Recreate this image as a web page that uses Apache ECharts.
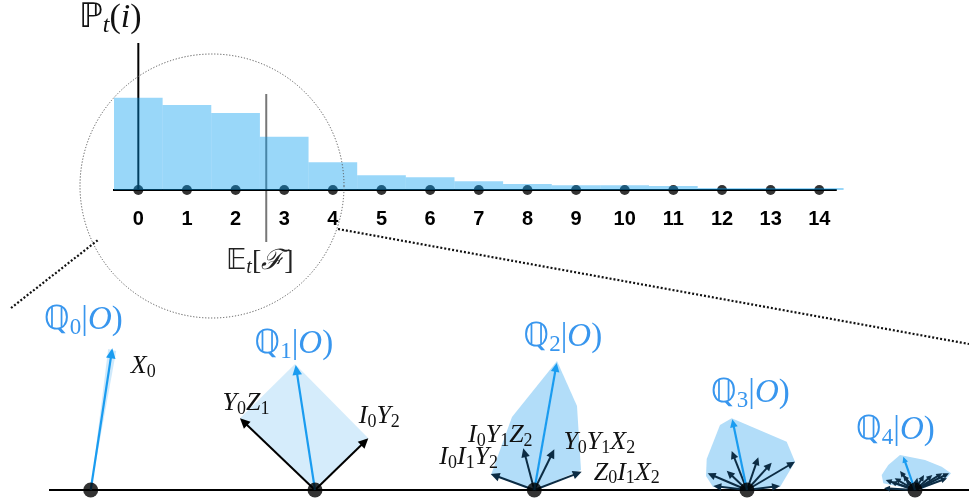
<!DOCTYPE html>
<html>
<head>
<meta charset="utf-8">
<script src="https://cdn.jsdelivr.net/npm/echarts@6/dist/echarts.min.js"></script>
<style>
  html, body { margin: 0; padding: 0; background: #fff; }
  #chart { width: 969px; height: 503px; }
</style>
</head>
<body>
<div id="chart"></div>
<script>
// ---- distribution over the number of failures i ----
const categories = ['0', '1', '2', '3', '4', '5', '6', '7', '8', '9', '10', '11', '12', '13', '14'];
const probabilities = [0.232, 0.214, 0.194, 0.134, 0.070, 0.037, 0.032, 0.022, 0.015, 0.012, 0.012, 0.010, 0.005, 0.005, 0.005];
const expectedFailures = 2.63;
const probabilityMax = 0.37;
const axisSpan = [-0.77, 14.36];

// ---- per-level vector fans on the lower baseline ----
const panelOrigins = [90.7, 315, 534.3, 747, 915];
const panelNames = ['ℚ_0|O)', 'ℚ_1|O)', 'ℚ_2|O)', 'ℚ_3|O)', 'ℚ_4|O)'];
const meanVectors = [[21.6, 141.7], [-19.3, 125], [22.4, 127], [-14.7, 70.7], [-11.7, 33.3]];
const meanVectorNames = ['X_0', '', '', '', ''];
const componentVectors = [
  [],
  [[-75, 71.7], [53.3, 51.7]],
  [[-43.6, 16], [-11, 41.7], [20, 40.7], [47.4, 18.3]],
  [[-39.3, 16.7], [-33.7, 4], [-20.3, 19.3], [-15.3, 39], [11.3, 32.7], [24.7, 27.3], [48, 28.3], [33, 4]],
  [[-31, 1.7], [-29.3, 10], [-24.3, 8.3], [-20.3, 11.7], [-15, 19], [-12, 15], [-9.3, 10], [2.3, 12.3], [9, 15], [17.3, 15], [27.3, 16.7], [34, 16.7], [32, 11.7]]
];
const componentNames = [
  [],
  ['Y_0Z_1', 'I_0Y_2'],
  ['I_0I_1Y_2', 'I_0Y_1Z_2', 'Y_0Y_1X_2', 'Z_0I_1X_2'],
  [],
  []
];
const hulls = [
  [[0, 0], [17.5, 141], [25.5, 139]],
  [[0, 0], [-75, 71.7], [-20, 126], [53.3, 51.7]],
  [[0, 0], [-43.3, 15], [-22.3, 73], [22.7, 129], [42.7, 84], [46.7, 20]],
  [[0, 0], [-34, 3], [-41, 14], [-40.3, 31], [-27, 65], [-15.3, 71.7], [39.7, 48.3], [48, 28.3], [33, 3]],
  [[0, 0], [-31.7, 6.7], [-33.3, 15], [-26.7, 25], [-15, 35], [10, 30], [26.7, 23.3], [36, 16.7], [31.7, 12], [5, 0]]
];

// ---- styling / layout ----
const BAR_FILL = 'rgba(0,155,240,0.40)';
const BLUE = '#1a9cf0';
const LABEL_BLUE = '#3896ee';
const hullFills = ['#cfe9fb', '#d5ecfb', '#b2ddf9', '#b2ddf9', '#b2ddf9'];
const arrowInk = ['#000', '#000', '#0c2c44', '#0c2c44', '#0c2c44'];
const headSize = [10, 10, 9, 8, 6];
const nameOffset = [[-29, -28], [-2, -21], [6, -26], [18, -26], [-8, -26]];
const meanNameOffset = [[31, 18], [0, 0], [0, 0], [0, 0], [0, 0]];
const componentNameOffset = [
  [],
  [[6, -15], [11, -22]],
  [[-22, -16.5], [-23, -13], [45, -7], [45, 1]],
  [],
  []
];

// inline math: '_' makes the next glyph a subscript
const DOUBLE_STRUCK = new Set(['ℚ', 'ℙ', '𝔼']);
function mathRich(src) {
  const chars = Array.from(src);
  let out = '';
  for (let k = 0; k < chars.length; k++) {
    let c = chars[k];
    let sub = false;
    if (c === '_') { sub = true; c = chars[++k]; }
    let kind;
    if (DOUBLE_STRUCK.has(c)) kind = 'b';
    else if (c === 'ℱ') kind = 'c';
    else if (/[A-Za-z]/.test(c)) kind = 'i';
    else kind = 'r';
    if (sub) kind = 's' + kind;
    out += '{' + kind + '|' + c + '}';
  }
  return out;
}
function richStyles(size, color) {
  const s = Math.round(size * 0.7);
  const L = Math.round(size * 1.15);
  const sh = Math.round(s * 0.7);
  const main = { fill: color, color: color, fontSize: size, lineHeight: L };
  const sub = { fill: color, color: color, fontSize: s, lineHeight: sh, verticalAlign: 'bottom' };
  return {
    b: Object.assign({ fontFamily: 'DejaVu Sans' }, main),
    c: Object.assign({ fontFamily: 'DejaVu Serif', fontStyle: 'italic' }, main),
    i: Object.assign({ fontFamily: 'Liberation Serif', fontStyle: 'italic' }, main),
    r: Object.assign({ fontFamily: 'Liberation Serif' }, main),
    si: Object.assign({ fontFamily: 'Liberation Serif', fontStyle: 'italic' }, sub),
    sr: Object.assign({ fontFamily: 'Liberation Serif' }, sub)
  };
}
function mathText(x, y, src, size, color) {
  return {
    type: 'text', x: x, y: y,
    style: { text: mathRich(src), rich: richStyles(size, color), align: 'center', verticalAlign: 'middle' }
  };
}
function arrow(a, b, color, width, head) {
  const dx = b[0] - a[0], dy = b[1] - a[1];
  const len = Math.hypot(dx, dy) || 1;
  const ux = dx / len, uy = dy / len;
  const hl = Math.min(head, len * 0.6), hw = hl * 0.48;
  const bx = b[0] - ux * hl, by = b[1] - uy * hl;
  return [
    { type: 'line', shape: { x1: a[0], y1: a[1], x2: bx + ux, y2: by + uy }, style: { stroke: color, lineWidth: width } },
    { type: 'polygon', shape: { points: [[b[0], b[1]], [bx - uy * hw, by + ux * hw], [bx + uy * hw, by - ux * hw]] }, style: { fill: color } }
  ];
}

const LABEL_SIZE = 26;
const NAME_SIZE = 33;

const chart = echarts.init(document.getElementById('chart'), null, { renderer: 'canvas' });

const option = {
  animation: false,
  backgroundColor: '#fff',
  grid: [
    { left: 114, right: 125.4, top: 43, bottom: 313 },
    { left: 0, right: 0, top: 290, height: 200 }
  ],
  xAxis: [
    {
      type: 'category', gridIndex: 0, data: categories, boundaryGap: true,
      axisLine: { show: false }, axisTick: { show: false }, splitLine: { show: false },
      axisLabel: { margin: 19, color: '#000', fontSize: 20, fontWeight: 'bold', fontFamily: 'Liberation Sans' }
    },
    { type: 'value', gridIndex: 0, min: -0.5, max: 14.5, show: false },
    { type: 'value', gridIndex: 1, min: 0, max: 969, show: false }
  ],
  yAxis: [
    { type: 'value', gridIndex: 0, min: 0, max: probabilityMax, show: false },
    { type: 'value', gridIndex: 1, min: 0, max: 200, show: false }
  ],
  graphic: [
    { type: 'circle', z: 50, shape: { cx: 212, cy: 186, r: 132 }, style: { fill: 'none', stroke: '#555', lineWidth: 1, lineDash: [1.2, 1.8] } },
    { type: 'line', z: 50, shape: { x1: 11, y1: 308, x2: 98, y2: 240 }, style: { stroke: '#111', lineWidth: 2.2, lineDash: [2, 2] } },
    { type: 'line', z: 50, shape: { x1: 338, y1: 229, x2: 969, y2: 344 }, style: { stroke: '#111', lineWidth: 2.2, lineDash: [2, 2] } },
    { type: 'text', z: 50, left: 79, top: 1, style: { text: mathRich('ℙ_t(i)'), rich: richStyles(34, '#111') } }
  ],
  series: [
    // horizontal axis of the distribution
    {
      type: 'line', xAxisIndex: 1, yAxisIndex: 0, z: 1, silent: true, symbol: 'none',
      lineStyle: { color: '#000', width: 2 },
      data: [[axisSpan[0], 0], [axisSpan[1], 0]]
    },
    // vertical probability axis at i = 0
    {
      type: 'line', xAxisIndex: 1, yAxisIndex: 0, z: 1, silent: true, symbol: 'none',
      lineStyle: { color: '#000', width: 2 },
      data: [[0, 0], [0, probabilityMax]]
    },
    // expectation marker
    {
      type: 'custom', xAxisIndex: 1, yAxisIndex: 0, z: 1, silent: true,
      data: [[expectedFailures, 0]],
      renderItem: function (params, api) {
        const p = api.coord([api.value(0), 0]);
        return {
          type: 'group', children: [
            { type: 'line', shape: { x1: p[0], y1: p[1] - 96, x2: p[0], y2: p[1] + 52 }, style: { stroke: '#777', lineWidth: 2 } },
            mathText(p[0] - 6.5, p[1] + 72, '𝔼_t[ℱ]', 28, '#222')
          ]
        };
      }
    },
    // support points
    {
      type: 'scatter', xAxisIndex: 1, yAxisIndex: 0, z: 2, silent: true,
      symbolSize: 10, itemStyle: { color: '#000' },
      data: categories.map(function (c, i) { return [i, 0]; })
    },
    // probability mass as full-width steps
    {
      type: 'custom', xAxisIndex: 1, yAxisIndex: 0, z: 3, silent: true,
      data: probabilities.map(function (v, i) { return [i, v]; }),
      renderItem: function (params, api) {
        const i = api.value(0), v = api.value(1);
        const tl = api.coord([i - 0.5, v]);
        const br = api.coord([i + 0.5, 0]);
        return { type: 'rect', shape: { x: tl[0], y: tl[1], width: br[0] - tl[0], height: br[1] - tl[1] }, style: { fill: BAR_FILL } };
      }
    },
    // lower baseline
    {
      type: 'line', xAxisIndex: 2, yAxisIndex: 1, z: 1, silent: true, symbol: 'none',
      lineStyle: { color: '#000', width: 2 },
      data: [[49, 0], [969, 0]]
    },
    // vector fans
    {
      type: 'custom', xAxisIndex: 2, yAxisIndex: 1, z: 3, silent: true,
      data: panelOrigins.map(function (x) { return [x, 0]; }),
      renderItem: function (params, api) {
        const p = params.dataIndex;
        const ox = panelOrigins[p];
        const pt = function (v) { return api.coord([ox + v[0], v[1]]); };
        const o = pt([0, 0]);
        const kids = [];
        kids.push({ type: 'polygon', shape: { points: hulls[p].map(pt) }, style: { fill: hullFills[p] } });
        componentVectors[p].forEach(function (v, k) {
          const tip = pt(v);
          arrow(o, tip, arrowInk[p], 2, headSize[p]).forEach(function (e) { kids.push(e); });
          const nm = componentNames[p][k];
          if (nm) {
            const off = componentNameOffset[p][k];
            kids.push(mathText(tip[0] + off[0], tip[1] + off[1], nm, LABEL_SIZE, '#111'));
          }
        });
        const mtip = pt(meanVectors[p]);
        arrow(o, mtip, BLUE, 2.2, headSize[p]).forEach(function (e) { kids.push(e); });
        if (meanVectorNames[p]) {
          kids.push(mathText(mtip[0] + meanNameOffset[p][0], mtip[1] + meanNameOffset[p][1], meanVectorNames[p], LABEL_SIZE, '#111'));
        }
        kids.push(mathText(mtip[0] + nameOffset[p][0], mtip[1] + nameOffset[p][1], panelNames[p], NAME_SIZE, LABEL_BLUE));
        return { type: 'group', children: kids };
      }
    },
    // origins on the baseline
    {
      type: 'scatter', xAxisIndex: 2, yAxisIndex: 1, z: 4, silent: true,
      symbolSize: 15, itemStyle: { color: '#000' },
      data: panelOrigins.map(function (x) { return [x, 0]; })
    }
  ]
};

chart.setOption(option);
</script>
</body>
</html>
